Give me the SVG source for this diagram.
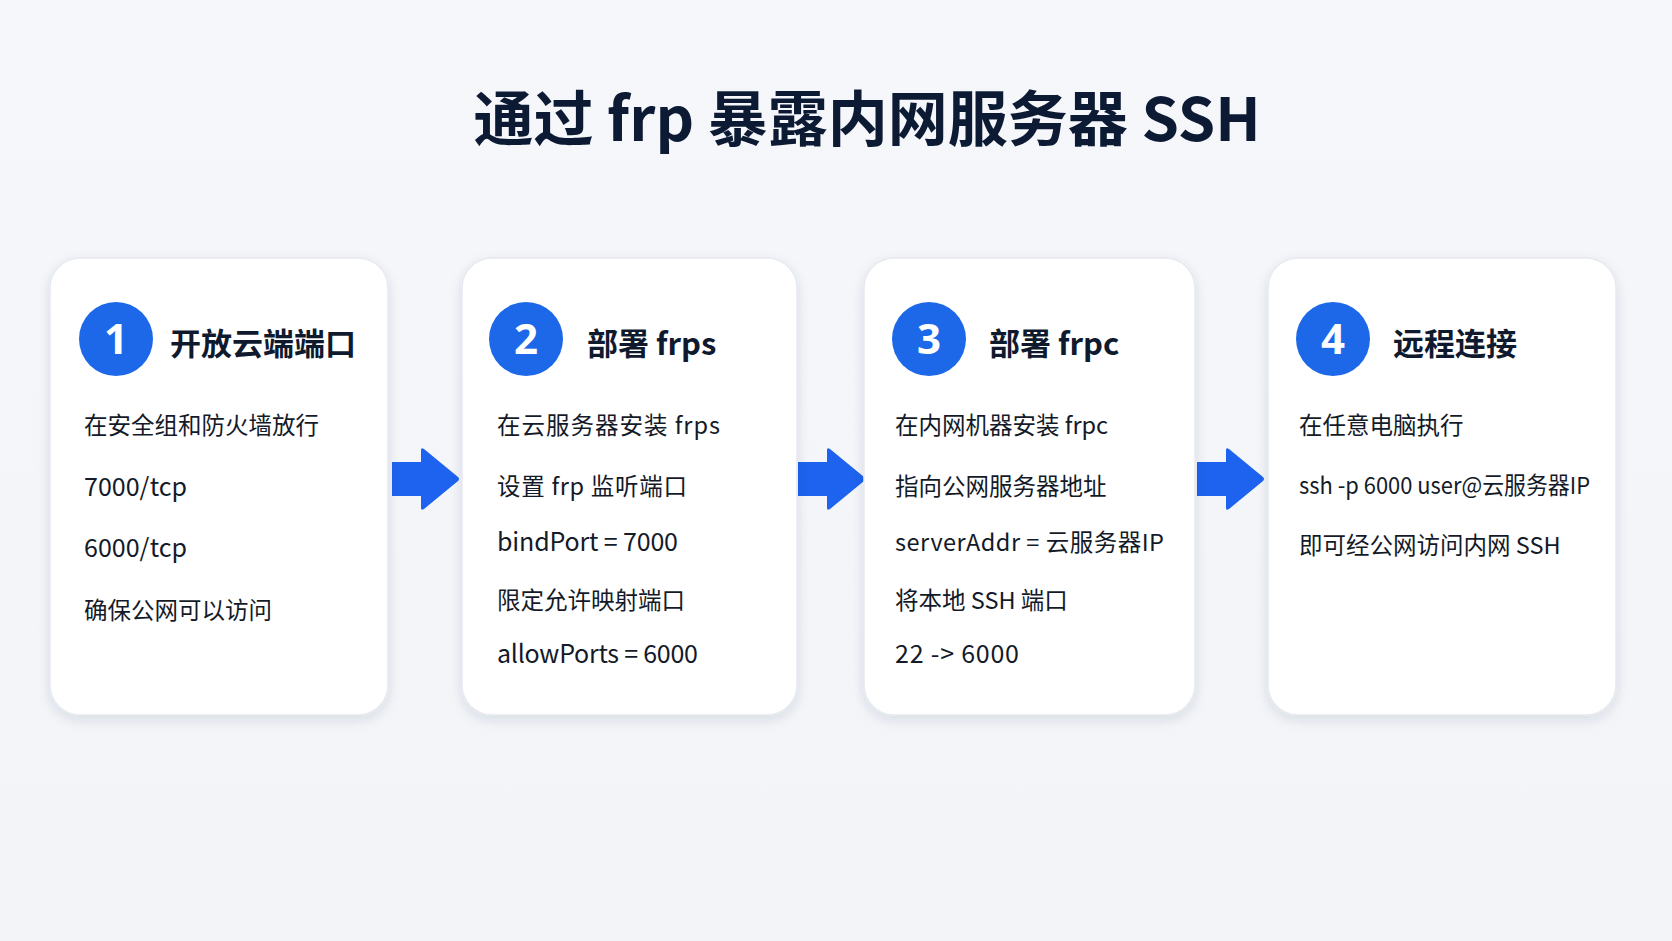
<svg xmlns="http://www.w3.org/2000/svg" width="1672" height="941" viewBox="0 0 1672 941">
<defs>
<linearGradient id="bg" x1="0" y1="0" x2="0" y2="1">
<stop offset="0" stop-color="#f5f7fb"/>
<stop offset="1" stop-color="#f2f4f8"/>
</linearGradient>
<filter id="sh" x="-10%" y="-10%" width="120%" height="125%">
<feDropShadow dx="0" dy="4" stdDeviation="6" flood-color="#1e2a4a" flood-opacity="0.12"/>
</filter>
<path id="arr" d="M0,-17 H29 V-29 Q29,-32 32,-30 L66,-2 Q68,0 66,2 L32,30 Q29,32 29,29 V17 H0 Z"/>
</defs>
<style>
.card{fill:#ffffff;stroke:#e6e9ef;stroke-width:1.5;filter:url(#sh)}
.num{fill:#1c68e8}
.numt{fill:#ffffff;font-family:"Noto Sans","Noto Sans CJK SC",sans-serif;font-weight:700;font-size:42px;text-anchor:middle}
.head{fill:#0f1a2e;font-family:"Noto Sans CJK SC","Noto Sans",sans-serif;font-weight:700;font-size:31px}
.body{fill:#141a28;font-family:"Noto Sans CJK SC","Noto Sans",sans-serif;font-size:23.5px}
.lat{font-size:25px}
.title{fill:#0d1a33;font-family:"Noto Sans CJK SC","Noto Sans",sans-serif;font-weight:700;font-size:60px;text-anchor:middle}
.arrow{fill:#1d63ef}
</style>
<rect width="1672" height="941" fill="url(#bg)"/>
<text class="title" x="867" y="141">通过 frp 暴露内网服务器 SSH</text>

<g id="connectors">
<use href="#arr" class="arrow" transform="translate(392,479)"/>
<use href="#arr" class="arrow" transform="translate(798,479)"/>
<use href="#arr" class="arrow" transform="translate(1197,479)"/>
</g>

<g id="step1">
<rect class="card" x="50" y="258" width="338" height="457" rx="30"/>
<circle class="num" cx="116" cy="339" r="37"/>
<text class="numt" x="116" y="354">1</text>
<text class="head" x="170" y="355">开放云端端口</text>
<text class="body" x="84" y="434">在安全组和防火墙放行</text>
<text class="body lat" x="84" y="496" textLength="103" lengthAdjust="spacingAndGlyphs">7000/tcp</text>
<text class="body lat" x="84" y="557" textLength="103" lengthAdjust="spacingAndGlyphs">6000/tcp</text>
<text class="body" x="84" y="619">确保公网可以访问</text>
</g>

<g id="step2">
<rect class="card" x="462" y="258" width="335" height="457" rx="30"/>
<circle class="num" cx="526" cy="339" r="37"/>
<text class="numt" x="526" y="354">2</text>
<text class="head" x="587" y="355">部署 frps</text>
<text class="body" x="497" y="434" textLength="223">在云服务器安装 frps</text>
<text class="body" x="497" y="495" textLength="190">设置 frp 监听端口</text>
<text class="body lat" x="497" y="551" textLength="181">bindPort = 7000</text>
<text class="body" x="497" y="609">限定允许映射端口</text>
<text class="body lat" x="497" y="663" textLength="201">allowPorts = 6000</text>
</g>

<g id="step3">
<rect class="card" x="864" y="258" width="331" height="457" rx="30"/>
<circle class="num" cx="929" cy="339" r="37"/>
<text class="numt" x="929" y="354">3</text>
<text class="head" x="989" y="355">部署 frpc</text>
<text class="body" x="895" y="434">在内网机器安装 frpc</text>
<text class="body" x="895" y="495">指向公网服务器地址</text>
<text class="body" x="895" y="551" textLength="269">serverAddr = 云服务器IP</text>
<text class="body" x="895" y="609">将本地 SSH 端口</text>
<text class="body lat" x="895" y="663" textLength="124">22 -&gt; 6000</text>
</g>

<g id="step4">
<rect class="card" x="1268" y="258" width="348" height="457" rx="30"/>
<circle class="num" cx="1333" cy="339" r="37"/>
<text class="numt" x="1333" y="354">4</text>
<text class="head" x="1393" y="355">远程连接</text>
<text class="body" x="1299" y="434">在任意电脑执行</text>
<text class="body" x="1299" y="494" textLength="291" lengthAdjust="spacingAndGlyphs">ssh -p 6000 user@云服务器IP</text>
<text class="body" x="1299" y="554">即可经公网访问内网 SSH</text>
</g>
</svg>
